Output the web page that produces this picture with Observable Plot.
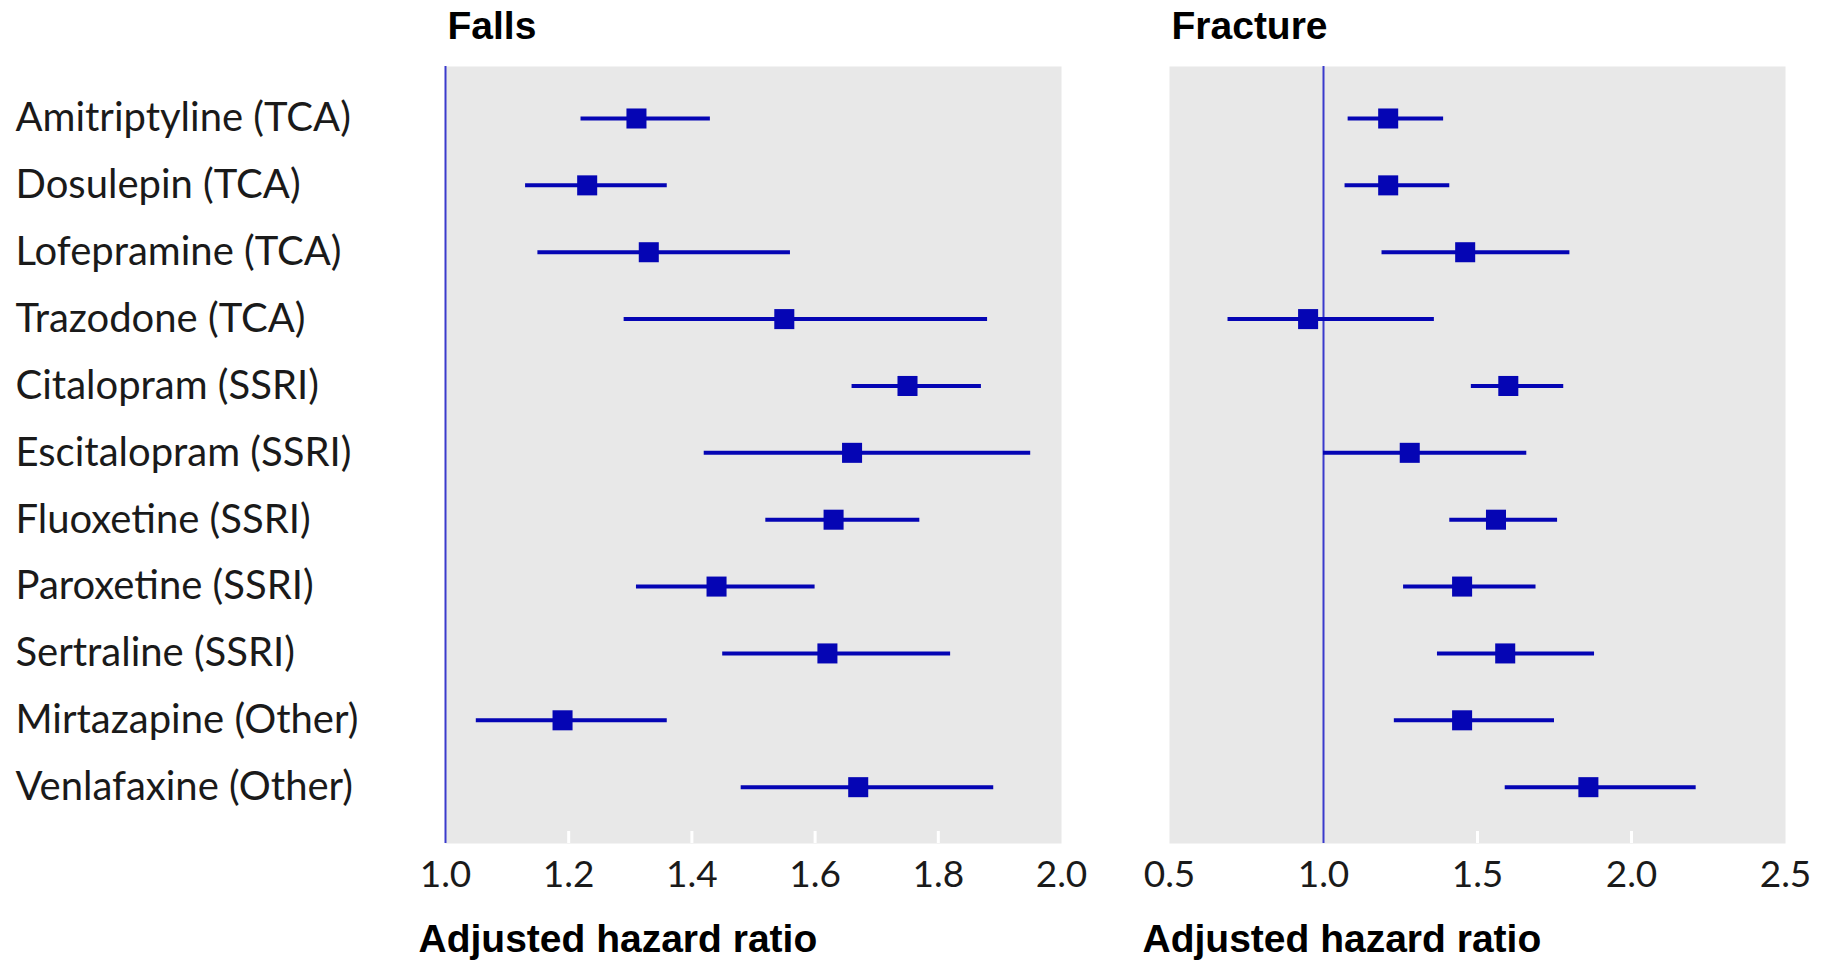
<!DOCTYPE html>
<html><head><meta charset="utf-8">
<script src="https://cdn.jsdelivr.net/npm/d3@7"></script>
<script src="https://cdn.jsdelivr.net/npm/@observablehq/plot@0.6"></script>
<style>
body{margin:0;background:#fff;}
#wrap{position:relative;width:1829px;height:961px;}
#falls{position:absolute;left:0;top:0;}
#frac{position:absolute;left:1100px;top:0;}
svg{overflow:visible;}
</style></head><body>
<div id="wrap"><div id="falls"></div><div id="frac"></div></div>
<script>
const drugs = ["Amitriptyline (TCA)","Dosulepin (TCA)","Lofepramine (TCA)","Trazodone (TCA)","Citalopram (SSRI)","Escitalopram (SSRI)","Fluoxetine (SSRI)","Paroxetine (SSRI)","Sertraline (SSRI)","Mirtazapine (Other)","Venlafaxine (Other)"];

const fallsEst = [1.31,1.23,1.33,1.55,1.75,1.66,1.63,1.44,1.62,1.19,1.67];
const fallsLo  = [1.22,1.13,1.15,1.29,1.66,1.42,1.52,1.31,1.45,1.05,1.48];
const fallsHi  = [1.43,1.36,1.56,1.88,1.87,1.95,1.77,1.60,1.82,1.36,1.89];

const fracEst = [1.21,1.21,1.46,0.95,1.60,1.28,1.56,1.45,1.59,1.45,1.86];
const fracLo  = [1.08,1.07,1.19,0.69,1.48,1.00,1.41,1.26,1.37,1.23,1.59];
const fracHi  = [1.39,1.41,1.80,1.36,1.78,1.66,1.76,1.69,1.88,1.75,2.21];

const fallsTicks = [1.0,1.2,1.4,1.6,1.8,2.0];
const fracTicks = [0.5,1.0,1.5,2.0,2.5];
const fallsInner = [1.2,1.4,1.6,1.8];
const fracInner = [1.5,2.0];
const titles = ["Falls","Fracture"];
const axisLabel = "Adjusted hazard ratio";

const BLUE = "#0505b4";
const REF = "#3a3acc";
const TXT = "#1a1a1a";
const TITLE_FONT = "'Liberation Sans', Arial, sans-serif";
const BODY_FONT = "Lato, 'Open Sans', sans-serif";

function panel({title, est, lo, hi, domain, ticks, inner, width, marginLeft, marginRight, labels}) {
  const rows = drugs.map((d, i) => ({drug: d, est: est[i], lo: lo[i], hi: hi[i]}));
  const H = 961, mTop = 66, mBottom = 118;
  const frameH = H - mTop - mBottom;
  const marks = [
    Plot.frame({fill: "#e8e8e8", stroke: null}),
    Plot.ruleX(inner, {x: d => d, stroke: "white", strokeWidth: 3, insetTop: frameH - 12}),
    Plot.ruleX([1], {x: d => d, stroke: REF, strokeWidth: 2}),
    Plot.ruleY(rows, {y: "drug", x1: "lo", x2: "hi", stroke: BLUE, strokeWidth: 4}),
    Plot.dot(rows, {y: "drug", x: "est", symbol: "square", r: 11.3, fill: BLUE, stroke: null}),
    Plot.axisX({ticks, tickFormat: d3.format(".1f"), tickSize: 0, tickPadding: 17, fontSize: 37, fill: TXT, label: null, fontFamily: BODY_FONT}),
    Plot.text([title], {text: d => d, frameAnchor: "top-left", textAnchor: "start", lineAnchor: "bottom", dy: -28, dx: 2, fontSize: 39, fontWeight: "bold", fontFamily: TITLE_FONT, fill: "#000"}),
    Plot.text([axisLabel], {text: d => d, frameAnchor: "bottom-left", textAnchor: "start", lineAnchor: "bottom", dy: 108, dx: -27, fontSize: 39, fontWeight: "bold", fontFamily: TITLE_FONT, fill: "#000"})
  ];
  if (labels) {
    marks.push(Plot.text(drugs, {y: d => d, text: d => d, frameAnchor: "left", textAnchor: "start", dx: -430, dy: 0, fontSize: 40, fill: TXT, fontFamily: BODY_FONT}));
  }
  return Plot.plot({
    width, height: H,
    marginTop: mTop, marginBottom: mBottom, marginLeft, marginRight,
    style: {fontFamily: BODY_FONT, background: "transparent", overflow: "visible"},
    x: {domain, axis: null},
    y: {type: "point", domain: drugs, padding: 0.81, align: 0.48, round: false, axis: null},
    marks
  });
}

document.getElementById("falls").appendChild(panel({
  title: titles[0], est: fallsEst, lo: fallsLo, hi: fallsHi, domain: [1, 2],
  ticks: fallsTicks, inner: fallsInner, width: 1100, marginLeft: 445, marginRight: 39, labels: true
}));
document.getElementById("frac").appendChild(panel({
  title: titles[1], est: fracEst, lo: fracLo, hi: fracHi, domain: [0.5, 2.5],
  ticks: fracTicks, inner: fracInner, width: 729, marginLeft: 69, marginRight: 44, labels: false
}));
</script>
</body></html>
